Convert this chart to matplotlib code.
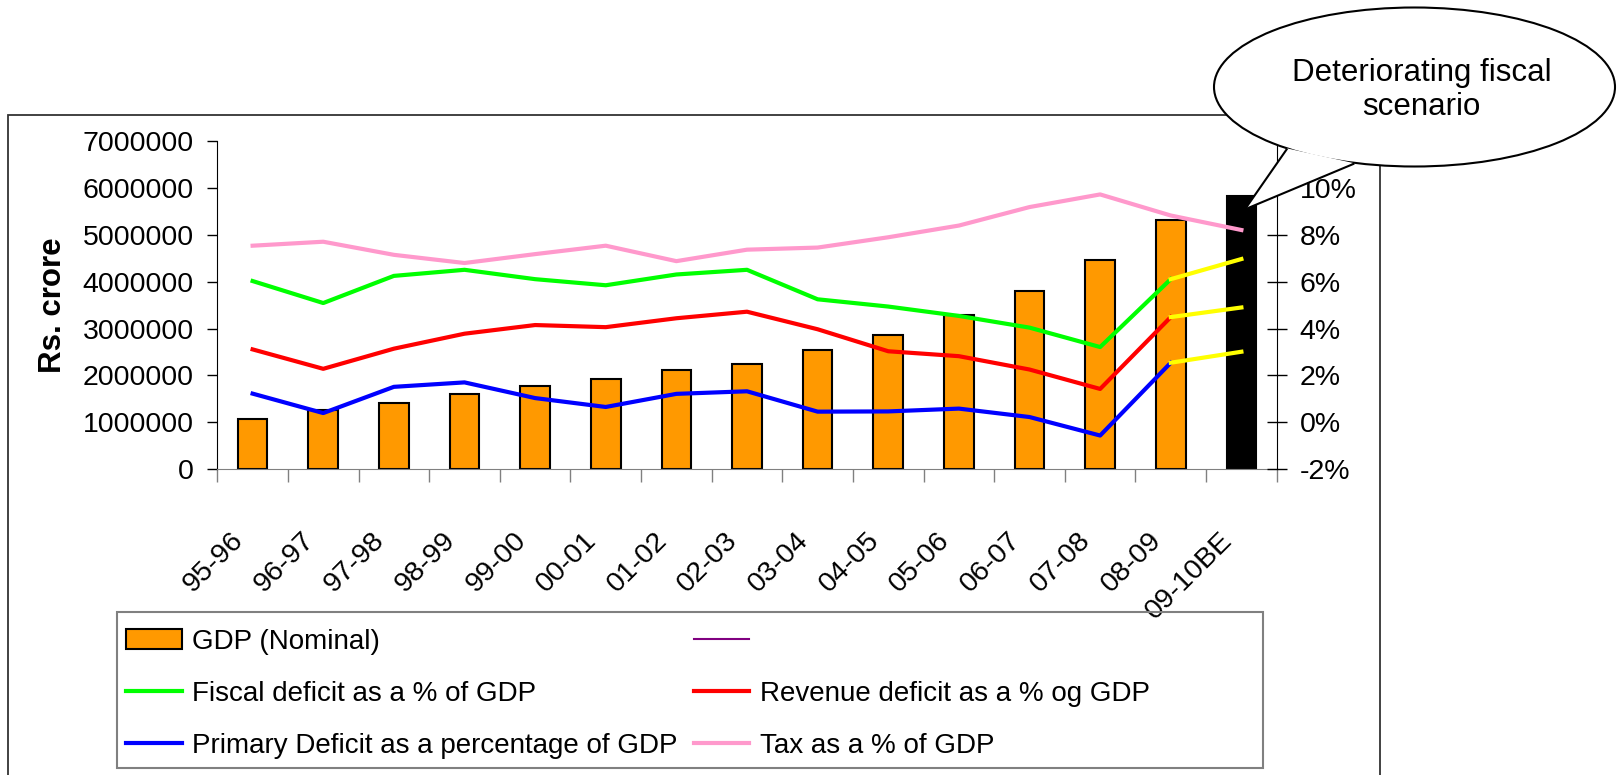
import numpy as np
import matplotlib
matplotlib.use("Agg")
import matplotlib.pyplot as plt
from matplotlib.patches import Ellipse, Polygon, Rectangle, Patch
from matplotlib.lines import Line2D
from matplotlib.ticker import FuncFormatter, MultipleLocator, FixedLocator
from matplotlib.transforms import ScaledTranslation

plt.rcParams['font.family'] = ['Liberation Sans', 'DejaVu Sans']
plt.rcParams['axes.unicode_minus'] = False

# data
years = ['95-96', '96-97', '97-98', '98-99', '99-00', '00-01', '01-02', '02-03',
         '03-04', '04-05', '05-06', '06-07', '07-08', '08-09', '09-10BE']
gdp = [1078000, 1270000, 1410000, 1597000, 1780000, 1925000, 2110000, 2250000,
       2540000, 2865000, 3290000, 3810000, 4460000, 5320000, 5830000]
fiscal = [6.03, 5.09, 6.25, 6.51, 6.11, 5.85, 6.31, 6.51, 5.25, 4.94, 4.54, 4.04, 3.21, 6.11, 6.97]
revenue = [3.11, 2.28, 3.14, 3.78, 4.15, 4.06, 4.44, 4.72, 3.97, 3.03, 2.82, 2.25, 1.42, 4.49, 4.90]
primary = [1.22, 0.39, 1.51, 1.70, 1.03, 0.65, 1.21, 1.32, 0.45, 0.46, 0.58, 0.22, -0.57, 2.54, 3.01]
tax = [7.54, 7.71, 7.15, 6.80, 7.18, 7.54, 6.88, 7.37, 7.46, 7.90, 8.40, 9.19, 9.73, 8.83, 8.21]

W, H = 1621, 775
fig = plt.figure(figsize=(W / 100, H / 100), dpi=100)


def fx(px):
    return px / W


def fy(py):
    return 1 - py / H


# outer chart frame
fig.add_artist(Rectangle((fx(8.3), -0.05), fx(1379.6 - 8.3), fy(114.7) + 0.05,
                         transform=fig.transFigure, fill=False,
                         edgecolor='#333333', lw=1.3, zorder=1))

ax = fig.add_axes([fx(217.3), fy(469), fx(1276.7 - 217.3), (469 - 141.3) / H])
x = np.arange(len(years))
bar_colors = ['#FF9900'] * (len(years) - 1) + ['#000000']
ax.bar(x, gdp, width=0.42, color=bar_colors, edgecolor='black', linewidth=1.5, zorder=2)
ax.set_xlim(-0.5, len(years) - 0.5)
ax.set_ylim(0, 7000000)
ax.yaxis.set_major_locator(MultipleLocator(1000000))
ax.yaxis.set_major_formatter(FuncFormatter(lambda v, p: f'{v:.0f}'))
ax.tick_params(axis='y', length=7, width=1, pad=10, labelsize=20.5, direction='out')
ax.set_xticks(x)
ax.set_xticklabels(years, rotation=45, ha='right')
ax.set_xticks(np.arange(-0.5, len(years), 1), minor=True)
ax.tick_params(axis='x', which='major', length=0, pad=42, labelsize=20.5)
ax.tick_params(axis='x', which='minor', length=9, width=1, color='#808080', direction='out')
for lbl in ax.get_xticklabels():
    lbl.set_transform(lbl.get_transform() + ScaledTranslation(-0.04, 0, fig.dpi_scale_trans))
ax.spines['top'].set_visible(False)
ax.spines['right'].set_visible(False)
ax.spines['bottom'].set_color('#808080')
ax.set_ylabel('Rs. crore', fontsize=22.5, fontweight='bold', va='center')
ax.yaxis.set_label_coords(-0.155, 0.5)

ax2 = ax.twinx()
ax2.set_ylim(-2, 12)
ax2.yaxis.set_major_locator(FixedLocator(np.arange(-2, 11, 2)))
ax2.yaxis.set_major_formatter(FuncFormatter(lambda v, p: f'{v:.0f}%'))
ax2.tick_params(axis='y', length=15, width=1, pad=9, labelsize=20.5, direction='inout')
ax2.spines['top'].set_visible(False)
ax2.spines['left'].set_visible(False)
ax2.spines['bottom'].set_visible(False)

lw = 3
ax2.plot(x[:-1], fiscal[:-1], color='#00FF00', lw=lw)
ax2.plot(x[:-1], revenue[:-1], color='#FF0000', lw=lw)
ax2.plot(x[:-1], primary[:-1], color='#0000FF', lw=lw)
for series in (fiscal, revenue, primary):
    ax2.plot(x[-2:], series[-2:], color='#FFFF00', lw=lw)
ax2.plot(x, tax, color='#FF99CC', lw=lw)

# legend
fig.add_artist(Rectangle((fx(116.7), fy(768.3)), fx(1263 - 116.7), (768.3 - 611.7) / H,
                         transform=fig.transFigure, fill=False,
                         edgecolor='#808080', lw=1.5, zorder=1))
handles = [Patch(facecolor='#FF9900', edgecolor='black', lw=1.5),
           Line2D([], [], color='#00FF00', lw=lw),
           Line2D([], [], color='#0000FF', lw=lw),
           Line2D([], [], color='#800080', lw=1.5),
           Line2D([], [], color='#FF0000', lw=lw),
           Line2D([], [], color='#FF99CC', lw=lw)]
labels = ['GDP (Nominal)', 'Fiscal deficit as a % of GDP',
          'Primary Deficit as a percentage of GDP', ' ',
          'Revenue deficit as a % og GDP', 'Tax as a % of GDP']
fig.legend(handles, labels, ncol=2, loc='upper left',
           bbox_to_anchor=(fx(109), fy(611.7)), frameon=False, fontsize=20,
           handlelength=2.0, handletextpad=0.38, columnspacing=0.57,
           labelspacing=0.94, borderaxespad=0, borderpad=0.615)

# callout
cx, cy, ew, eh = 1414.5, 87, 401, 159
tip, b1, b2 = (1245, 209.3), (1286.7, 149.3), (1353.3, 164)
fig.add_artist(Ellipse((fx(cx), fy(cy)), ew / W, eh / H, transform=fig.transFigure,
                       facecolor='white', edgecolor='black', lw=1.5, zorder=10))
fig.add_artist(Polygon([(fx(tip[0]), fy(tip[1])), (fx(b1[0]), fy(b1[1] - 1)),
                        (fx(b2[0]), fy(b2[1] - 1))], closed=True,
                       transform=fig.transFigure, facecolor='white',
                       edgecolor='none', zorder=11))
for b in (b1, b2):
    fig.add_artist(Line2D([fx(tip[0]), fx(b[0])], [fy(tip[1]), fy(b[1])],
                          transform=fig.transFigure, color='black', lw=1.5, zorder=12))
fig.text(fx(1421.7), fy(90), 'Deteriorating fiscal\nscenario', ha='center', va='center',
         fontsize=22.5, zorder=13)

fig.savefig('out.png', dpi=100)
